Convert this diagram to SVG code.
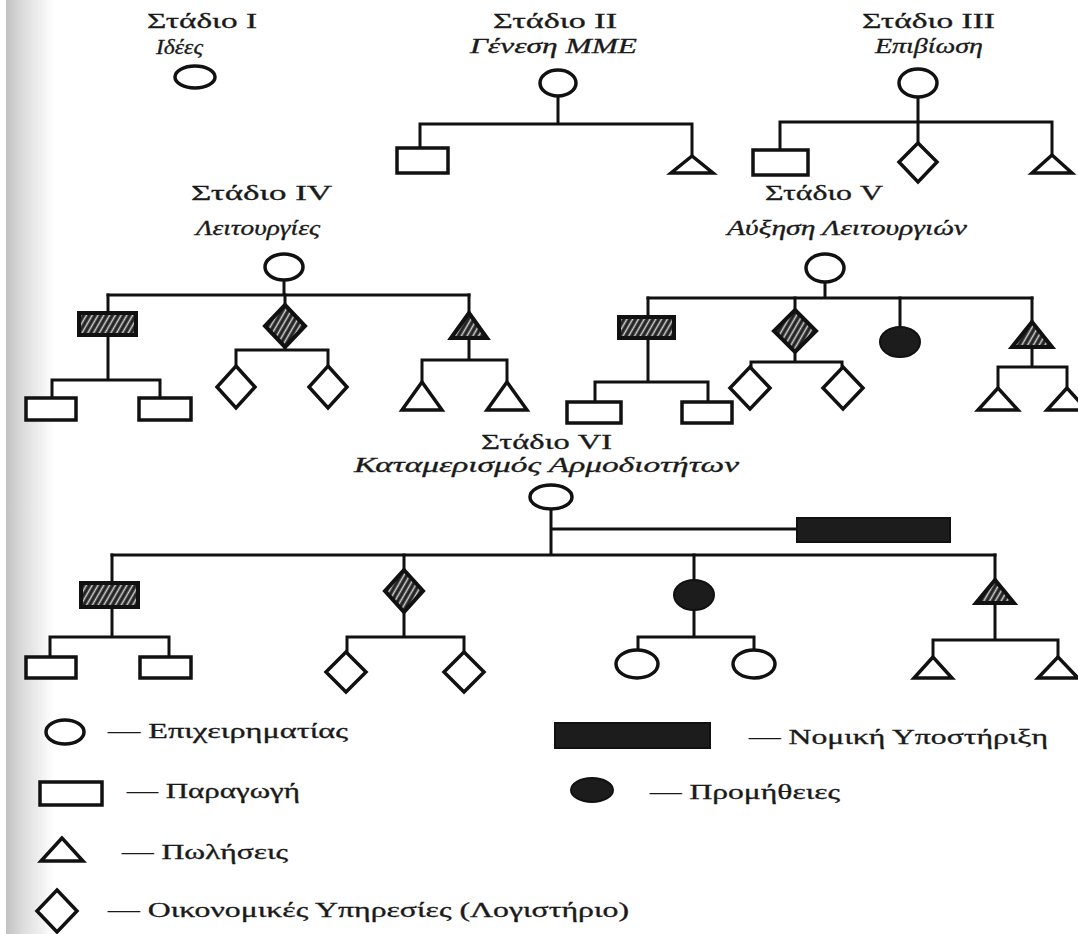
<svg xmlns="http://www.w3.org/2000/svg" width="1078" height="934" viewBox="0 0 1078 934">
  <defs>
    <linearGradient id="pageEdge" x1="0" y1="0" x2="1" y2="0">
      <stop offset="0" stop-color="#c2c2c2"/>
      <stop offset="0.35" stop-color="#dcdcdc"/>
      <stop offset="1" stop-color="#ffffff"/>
    </linearGradient>
    <pattern id="hatch" patternUnits="userSpaceOnUse" width="5" height="5" patternTransform="rotate(30)">
      <rect width="5" height="5" fill="#222"/>
      <line x1="2.5" y1="0" x2="2.5" y2="5" stroke="#cfcfcf" stroke-width="1.6"/>
    </pattern>
  </defs>
  <style>
    .title { font-family: "Liberation Serif", "DejaVu Serif", serif; font-size: 20px; fill: #1a1a1a; stroke: #1a1a1a; stroke-width: 0.3; }
    .sub { font-family: "Liberation Serif", "DejaVu Serif", serif; font-size: 20px; font-style: italic; fill: #1a1a1a; stroke: #1a1a1a; stroke-width: 0.3; }
    .legend { font-family: "Liberation Serif", "DejaVu Serif", serif; font-size: 20px; fill: #1a1a1a; stroke: #1a1a1a; stroke-width: 0.3; }
    .wire { fill: none; stroke: #111; stroke-width: 3; stroke-linecap: square; }
    .open { fill: #fff; stroke: #111; stroke-width: 3.5; stroke-linejoin: miter; }
    .hatched { fill: url(#hatch); stroke: #111; stroke-width: 4; stroke-linejoin: miter; }
    .solid { fill: #1c1c1c; stroke: #111; stroke-width: 2; }
  </style>

  <rect width="1078" height="934" fill="#fff"/>
  <rect x="6" y="0" width="48" height="934" fill="url(#pageEdge)"/>

  <!-- connectors -->
  <g id="connectors" class="wire">
    <!-- stage II -->
    <path d="M558,97 V124 M420,124 H692 M420,124 V148 M692,124 V157"/>
    <!-- stage III -->
    <path d="M918,97 V143 M780,122 H1052 M780,122 V150 M1052,122 V155"/>
    <!-- stage IV -->
    <path d="M284,280 V295 M108,295 H469"/>
    <path d="M108,295 V313 M108,335 V380 M52,380 H160 M52,380 V398 M160,380 V398"/>
    <path d="M285,295 V305 M285,347 V350 M236,350 H328 M236,350 V366 M328,350 V366"/>
    <path d="M469,295 V313 M469,338 V360 M422,360 H507 M422,360 V382 M507,360 V382"/>
    <!-- stage V -->
    <path d="M825,282 V298 M648,298 H1032"/>
    <path d="M648,298 V317 M648,338 V382 M595,382 H708 M595,382 V402 M708,382 V402"/>
    <path d="M795,298 V310 M795,352 V362 M751,362 H842 M751,362 V367 M842,362 V367"/>
    <path d="M900,298 V327"/>
    <path d="M1032,298 V322 M1032,347 V367 M998,367 H1067 M998,367 V388 M1067,367 V388"/>
    <!-- stage VI -->
    <path d="M551,509 V555 M551,529 H797 M112,555 H995"/>
    <path d="M112,555 V583 M112,607 V637 M50,637 H169 M50,637 V657 M169,637 V657"/>
    <path d="M404,555 V570 M404,612 V637 M347,637 H464 M347,637 V652 M464,637 V652"/>
    <path d="M694,555 V580 M694,610 V637 M638,637 H754 M638,637 V650 M754,637 V650"/>
    <path d="M995,555 V580 M995,603 V640 M933,640 H1058 M933,640 V657 M1058,640 V657"/>
  </g>

  <!-- stage I -->
  <g id="stage1">
    <text class="title" x="147" y="28" textLength="110" lengthAdjust="spacingAndGlyphs">Στάδιο I</text>
    <text class="sub" x="156" y="54" textLength="47" lengthAdjust="spacingAndGlyphs">Ιδέες</text>
    <ellipse class="open" cx="195" cy="77" rx="20" ry="11" stroke-width="4.5"/>
  </g>

  <!-- stage II -->
  <g id="stage2">
    <text class="title" x="493" y="28" textLength="124" lengthAdjust="spacingAndGlyphs">Στάδιο II</text>
    <text class="sub" x="470" y="53" textLength="167" lengthAdjust="spacingAndGlyphs">Γένεση ΜΜΕ</text>
    <ellipse class="open" cx="558" cy="83" rx="18" ry="13"/>
    <rect class="open" x="397" y="148" width="51" height="25"/>
    <polygon class="open" points="692,156 671,173 713,173"/>
  </g>

  <!-- stage III -->
  <g id="stage3">
    <text class="title" x="862" y="28" textLength="133" lengthAdjust="spacingAndGlyphs">Στάδιο III</text>
    <text class="sub" x="875" y="53" textLength="108" lengthAdjust="spacingAndGlyphs">Επιβίωση</text>
    <ellipse class="open" cx="918" cy="83" rx="19" ry="14"/>
    <rect class="open" x="753" y="150" width="55" height="25"/>
    <polygon class="open" points="918,143 937,162 918,182 899,162"/>
    <polygon class="open" points="1052,155 1032,173 1072,173"/>
  </g>

  <!-- stage IV -->
  <g id="stage4">
    <text class="title" x="191" y="200" textLength="141" lengthAdjust="spacingAndGlyphs">Στάδιο IV</text>
    <text class="sub" x="196" y="235" textLength="124" lengthAdjust="spacingAndGlyphs">Λειτουργίες</text>
    <ellipse class="open" cx="284" cy="267" rx="19" ry="13"/>
    <rect class="hatched" x="79" y="313" width="57" height="22"/>
    <rect class="open" x="26" y="398" width="50" height="22"/>
    <rect class="open" x="139" y="398" width="52" height="22"/>
    <polygon class="hatched" points="285,305 305,326 285,347 265,326"/>
    <polygon class="open" points="236,366 255,387 236,408 217,387"/>
    <polygon class="open" points="328,366 347,387 328,408 309,387"/>
    <polygon class="hatched" points="469,313 451,338 487,338"/>
    <polygon class="open" points="422,382 402,410 442,410"/>
    <polygon class="open" points="507,382 487,410 527,410"/>
  </g>

  <!-- stage V -->
  <g id="stage5">
    <text class="title" x="765" y="200" textLength="118" lengthAdjust="spacingAndGlyphs">Στάδιο V</text>
    <text class="sub" x="727" y="235" textLength="240" lengthAdjust="spacingAndGlyphs">Αύξηση Λειτουργιών</text>
    <ellipse class="open" cx="825" cy="268" rx="19" ry="14"/>
    <rect class="hatched" x="619" y="317" width="55" height="21"/>
    <rect class="open" x="567" y="402" width="54" height="21"/>
    <rect class="open" x="682" y="402" width="50" height="21"/>
    <polygon class="hatched" points="795,310 816,331 795,352 774,331"/>
    <polygon class="open" points="750,367 770,388 750,409 730,388"/>
    <polygon class="open" points="843,367 863,388 843,409 823,388"/>
    <ellipse class="solid" cx="900" cy="342" rx="20" ry="15"/>
    <polygon class="hatched" points="1032,322 1012,347 1052,347"/>
    <polygon class="open" points="998,388 978,410 1018,410"/>
    <polygon class="open" points="1067,388 1047,410 1087,410"/>
  </g>

  <!-- stage VI -->
  <g id="stage6">
    <text class="title" x="481" y="449" textLength="131" lengthAdjust="spacingAndGlyphs">Στάδιο VI</text>
    <text class="sub" x="354" y="472" textLength="385" lengthAdjust="spacingAndGlyphs">Καταμερισμός Αρμοδιοτήτων</text>
    <ellipse class="open" cx="551" cy="497" rx="21" ry="12"/>
    <rect class="solid" x="797" y="518" width="153" height="24"/>
    <rect class="hatched" x="81" y="583" width="57" height="24"/>
    <rect class="open" x="26" y="657" width="50" height="21"/>
    <rect class="open" x="140" y="657" width="51" height="21"/>
    <polygon class="hatched" points="404,570 423,591 404,612 385,591"/>
    <polygon class="open" points="346,652 366,672 346,692 326,672"/>
    <polygon class="open" points="464,652 484,672 464,692 444,672"/>
    <ellipse class="solid" cx="694" cy="595" rx="20" ry="15"/>
    <ellipse class="open" cx="637" cy="664" rx="21" ry="14"/>
    <ellipse class="open" cx="754" cy="664" rx="21" ry="14"/>
    <polygon class="hatched" points="995,580 976,603 1014,603"/>
    <polygon class="open" points="933,657 914,678 952,678"/>
    <polygon class="open" points="1058,657 1038,678 1078,678"/>
  </g>

  <!-- legend -->
  <g id="legend-entrepreneur">
    <ellipse class="open" cx="65" cy="732" rx="19" ry="12"/>
    <text class="legend" x="108" y="738" textLength="240" lengthAdjust="spacingAndGlyphs">— Επιχειρηματίας</text>
  </g>
  <g id="legend-production">
    <rect class="open" x="40" y="782" width="62" height="23"/>
    <text class="legend" x="127" y="798" textLength="173" lengthAdjust="spacingAndGlyphs">— Παραγωγή</text>
  </g>
  <g id="legend-sales">
    <polygon class="open" points="62,838 41,861 83,861"/>
    <text class="legend" x="122" y="859" textLength="166" lengthAdjust="spacingAndGlyphs">— Πωλήσεις</text>
  </g>
  <g id="legend-finance">
    <polygon class="open" points="57,890 77,911 57,932 37,911"/>
    <text class="legend" x="108" y="917" textLength="521" lengthAdjust="spacingAndGlyphs">— Οικονομικές Υπηρεσίες (Λογιστήριο)</text>
  </g>
  <g id="legend-legal">
    <rect class="solid" x="555" y="723" width="155" height="25"/>
    <text class="legend" x="749" y="744" textLength="299" lengthAdjust="spacingAndGlyphs">— Νομική Υποστήριξη</text>
  </g>
  <g id="legend-supplies">
    <ellipse class="solid" cx="592" cy="790" rx="21" ry="12"/>
    <text class="legend" x="650" y="799" textLength="190" lengthAdjust="spacingAndGlyphs">— Προμήθειες</text>
  </g>
</svg>
